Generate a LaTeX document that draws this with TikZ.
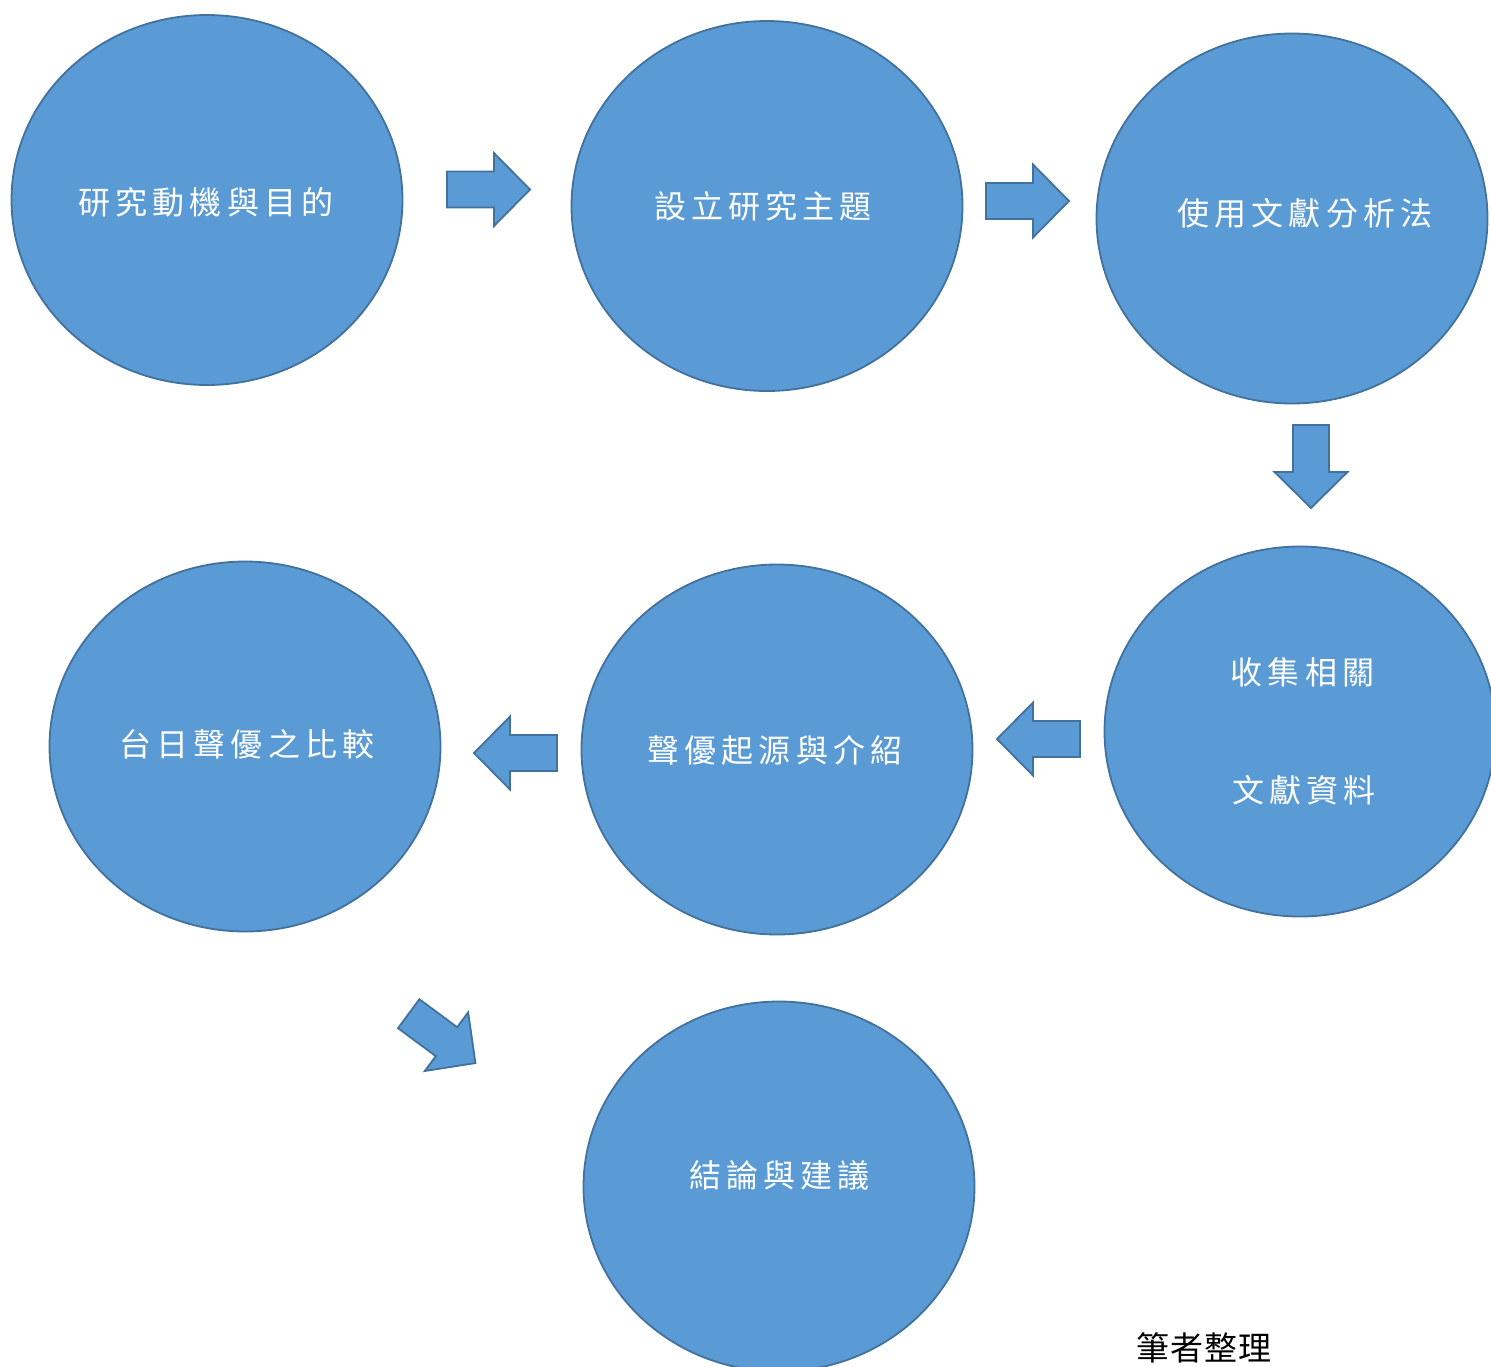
\documentclass[tikz,border=0pt]{standalone}
\usepackage{fontspec}
\usetikzlibrary{shapes.geometric}
\newfontfamily\cjk[LetterSpace=16]{Noto Sans CJK TC}
\newfontfamily\cjknote[LetterSpace=4]{Noto Sans CJK TC}
\definecolor{bubblefill}{HTML}{5B9BD5}
\definecolor{bubbleline}{HTML}{41719C}
\tikzset{
  bubble/.style={ellipse, draw=bubbleline, fill=bubblefill, line width=1.8pt,
    minimum width=391pt, minimum height=370pt, inner sep=0pt},
  label/.style={text=white, font=\cjk\fontsize{32}{38}\selectfont, inner sep=0pt},
  blockarrow/.style={draw=bubbleline, fill=bubblefill, line width=1.8pt, line join=miter},
  note/.style={text=black, font=\cjknote\fontsize{33}{38}\selectfont, inner sep=0pt}
}
\newcommand\blockarr[4]{%
  \begin{scope}[shift={(#1,#2)},rotate=#3]
    \draw[blockarrow] (0,-18) -- (47,-18) -- (47,-36.5) -- (83,0) -- (47,36.5) -- (47,18) -- (0,18) -- cycle;
    \coordinate (#4) at (41.5,0);
  \end{scope}}
\begin{document}
\begin{tikzpicture}[x=1pt,y=-1pt]
\useasboundingbox (0,0) rectangle (1491,1366);
\clip (0,0) rectangle (1491,1366);
% bubbles
\node[bubble] (c1) at (207,200) {};
\node[bubble] (c2) at (767,206) {};
\node[bubble] (c3) at (1292,218.5) {};
\node[bubble] (c4) at (1300,731.5) {};
\node[bubble] (c5) at (777,749.5) {};
\node[bubble] (c6) at (245,746.5) {};
\node[bubble] (c7) at (779,1186.5) {};
% labels
\node[label] (t1) at (206,202) {研究動機與目的};
\node[label] (t2) at (763,206) {設立研究主題};
\node[label] (t3) at (1305,213) {使用文獻分析法};
\node[label] (t4a) at (1302.5,672) {收集相關};
\node[label] (t4b) at (1304,790) {文獻資料};
\node[label] (t5) at (775,750) {聲優起源與介紹};
\node[label] (t6) at (247,744) {台日聲優之比較};
\node[label] (t7) at (779.5,1175) {結論與建議};
% block arrows
\blockarr{447}{189.5}{0}{a1}
\blockarr{986}{201}{0}{a2}
\blockarr{1311}{425}{-90}{a3}
\blockarr{1080}{739}{180}{a4}
\blockarr{557}{753}{180}{a5}
\blockarr{408.7}{1013.7}{-36.5}{a6}
% note
\node[note] (n1) at (1204,1348) {筆者整理};
\end{tikzpicture}
\end{document}
